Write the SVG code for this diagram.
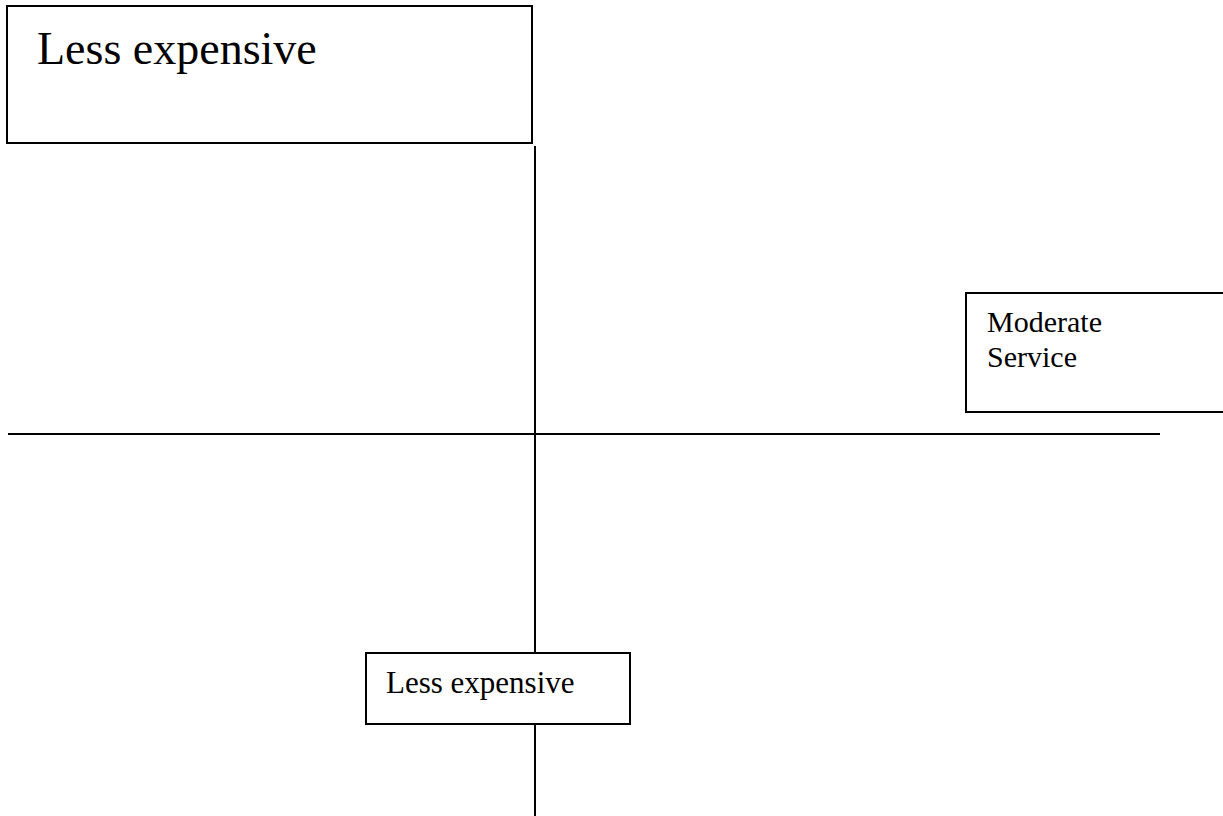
<svg xmlns="http://www.w3.org/2000/svg" width="1223" height="816" viewBox="0 0 1223 816">
<style>
.box{fill:#fff;stroke:#000;stroke-width:2}
.ln{stroke:#000;stroke-width:2;fill:none}
text{font-family:"Liberation Serif","Times New Roman",serif;fill:#000}
</style>
<rect width="1223" height="816" fill="#fff"/>
<g id="connectors">
<line class="ln" x1="535" y1="146" x2="535" y2="816"/>
<line class="ln" x1="8" y1="434" x2="1160" y2="434"/>
</g>
<g id="top-box">
<rect class="box" x="7" y="6" width="525" height="137"/>
<text x="37" y="64" font-size="46">Less expensive</text>
</g>
<g id="moderate-box">
<rect class="box" x="966" y="293" width="262" height="119"/>
<text x="987" y="332" font-size="30">Moderate</text>
<text x="987" y="367" font-size="30">Service</text>
</g>
<g id="bottom-box">
<rect class="box" x="366" y="653" width="264" height="71"/>
<text x="386" y="693" font-size="31">Less expensive</text>
</g>
</svg>
